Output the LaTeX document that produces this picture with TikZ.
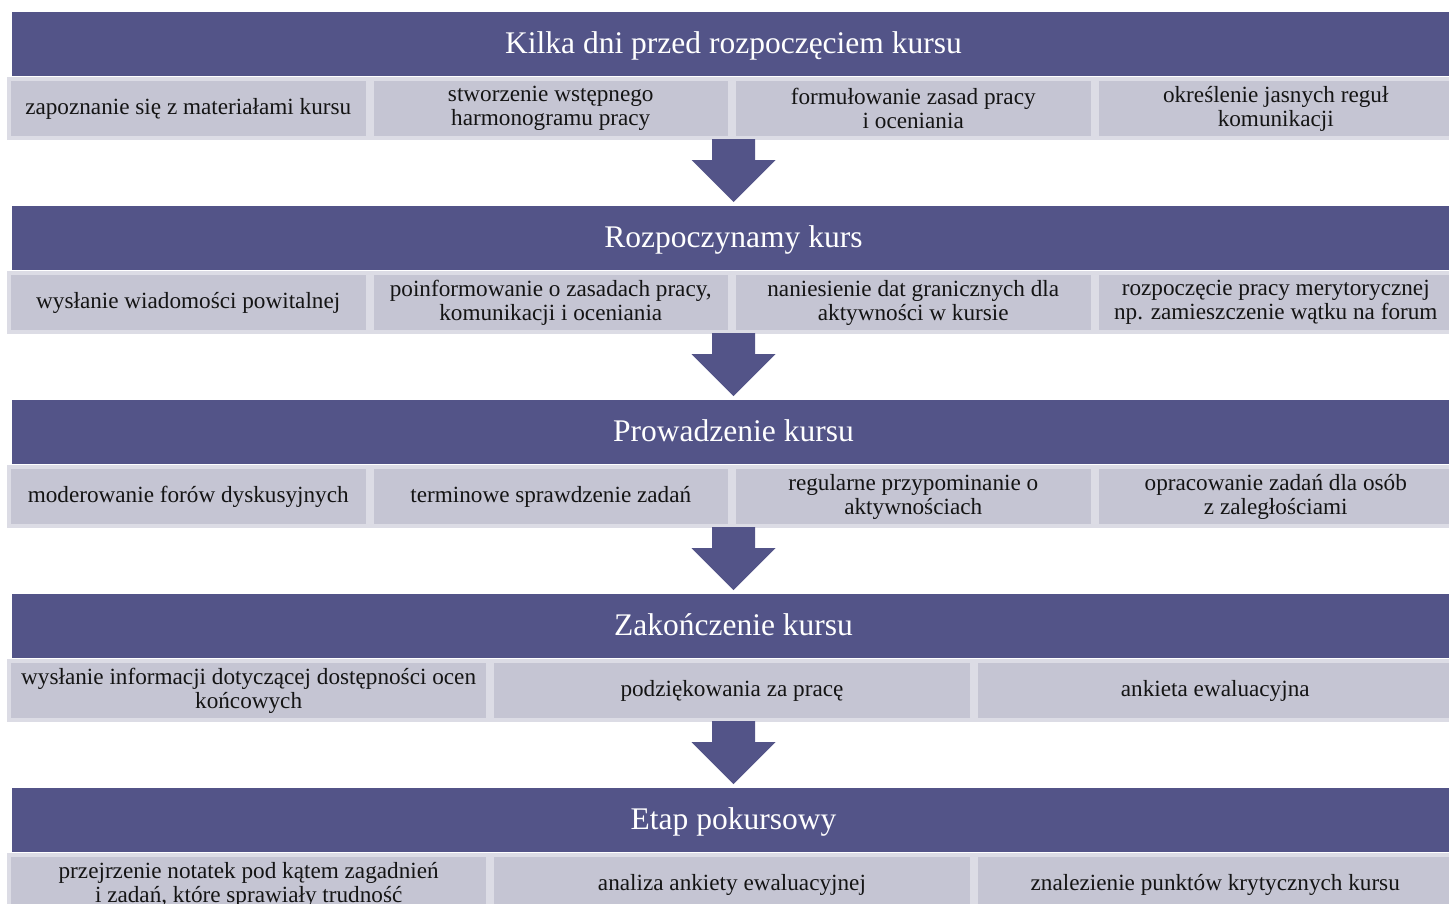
\documentclass[tikz,border=0pt]{standalone}
\usepackage{fontspec}
\setmainfont{Liberation Serif}
\usetikzlibrary{calc}
\definecolor{bandc}{HTML}{535488}
\definecolor{cellc}{HTML}{C5C5D3}
\definecolor{celledge}{HTML}{DCDCE5}
\definecolor{txt}{HTML}{141414}
\tikzset{
  band/.style={fill=bandc, draw=none, minimum width=1443pt, minimum height=64pt,
    inner sep=0pt, outer sep=0pt, anchor=north west, text=white,
    text height=22pt, text depth=4pt,
    font=\fontsize{31.5}{34}\selectfont},
  cell/.style={fill=cellc, draw=celledge, line width=4pt, minimum height=59pt,
    inner sep=0pt, outer sep=0pt, align=center, text=txt,
    font=\fontsize{23.2}{24}\selectfont},
  cellfour/.style={cell, minimum width=358.5pt},
  cellthree/.style={cell, minimum width=479.3pt},
  flow/.style={fill=bandc, draw=none},
}
\begin{document}
\begin{tikzpicture}[x=1pt, y=-1pt]
\useasboundingbox (0,0) rectangle (1449,903);
\fill[white] (0,0) rectangle (1449,903);

% stage headers
\node[band] (h0) at (12,12)  {Kilka dni przed rozpoczęciem kursu};
\node[band] (h1) at (12,206) {Rozpoczynamy kurs};
\node[band] (h2) at (12,400) {Prowadzenie kursu};
\node[band] (h3) at (12,594) {Zakończenie  kursu};
\node[band] (h4) at (12,788) {Etap pokursowy};

% row 1
\node[cellfour] (c01) at (188.25,108.5) {zapoznanie się z materiałami kursu};
\node[cellfour] (c02) at (550.75,108.5) {stworzenie wstępnego\\harmonogramu pracy};
\node[cellfour] (c03) at (913.25,108.5) {formułowanie zasad pracy\\i oceniania};
\node[cellfour] (c04) at (1275.75,108.5) {określenie jasnych reguł\\komunikacji};

% row 2
\node[cellfour] (c11) at (188.25,302.5) {wysłanie wiadomości powitalnej};
\node[cellfour] (c12) at (550.75,302.5) {poinformowanie o zasadach pracy,\\komunikacji i oceniania};
\node[cellfour] (c13) at (913.25,302.5) {naniesienie dat granicznych dla\\aktywności w kursie};
\node[cellfour] (c14) at (1275.75,302.5) {rozpoczęcie pracy merytorycznej\\np. zamieszczenie wątku na forum};

% row 3
\node[cellfour] (c21) at (188.25,496.5) {moderowanie forów dyskusyjnych};
\node[cellfour] (c22) at (550.75,496.5) {terminowe sprawdzenie zadań};
\node[cellfour] (c23) at (913.25,496.5) {regularne przypominanie o\\aktywnościach};
\node[cellfour] (c24) at (1275.75,496.5) {opracowanie zadań dla osób\\z zaległościami};

% row 4
\node[cellthree] (c31) at (248.65,690.5) {wysłanie informacji dotyczącej dostępności ocen\\końcowych};
\node[cellthree] (c32) at (731.95,690.5) {podziękowania za pracę};
\node[cellthree] (c33) at (1215.25,690.5) {ankieta ewaluacyjna};

% row 5
\node[cellthree] (c41) at (248.65,884.5) {przejrzenie notatek pod kątem zagadnień\\i zadań, które sprawiały trudność};
\node[cellthree] (c42) at (731.95,884.5) {analiza ankiety ewaluacyjnej};
\node[cellthree] (c43) at (1215.25,884.5) {znalezienie punktów krytycznych kursu};

% block arrows between stages
\foreach \k/\n in {0/1,1/2,2/3,3/4}{
  \fill[flow] ($(h\n.north)+(-21.5,-67)$) -- ($(h\n.north)+(21.5,-67)$)
    -- ($(h\n.north)+(21.5,-46)$) -- ($(h\n.north)+(42,-46)$)
    -- ($(h\n.north)+(0,-4)$) -- ($(h\n.north)+(-42,-46)$)
    -- ($(h\n.north)+(-21.5,-46)$) -- cycle;
}
\end{tikzpicture}
\end{document}
